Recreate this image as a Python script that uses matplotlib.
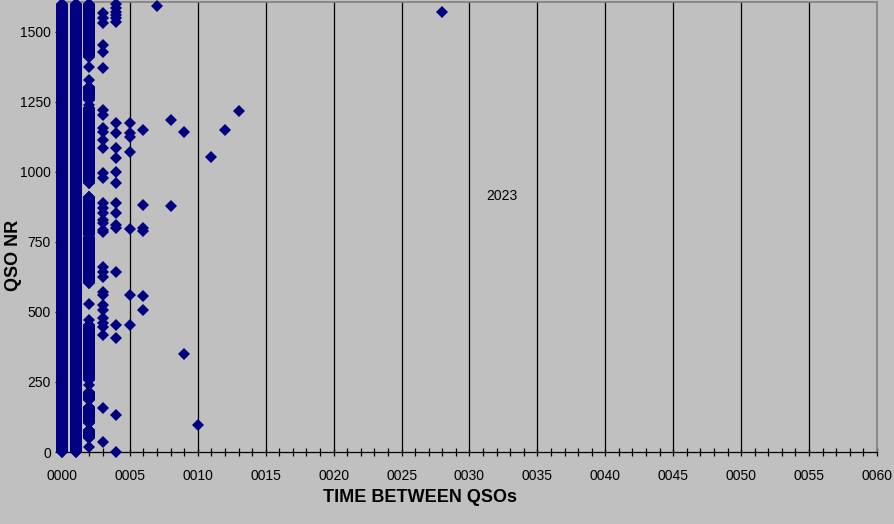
import numpy as np
import matplotlib.pyplot as plt

plt.rcParams['font.family'] = ['Liberation Sans', 'DejaVu Sans']

# QSO numbers per time gap (minutes); dense stretches given as runs (first, last)
runs = {
    0: [(0, 1600)],
    1: [(0, 1600)],
    2: [(1411, 1600), (1257, 1304), (961, 1229), (775, 911), (604, 768),
        (257, 454), (186, 214), (104, 161), (50, 79)],
}
singles = {
    2: [1375, 1329, 1239, 528, 471, 239, 18],
    3: [1568, 1550, 1532, 1454, 1429, 1371, 1221, 1204, 1157, 1143, 1114, 1086,
        996, 979, 889, 871, 854, 829, 818, 793, 786, 661, 643, 625, 571, 561,
        525, 507, 479, 461, 446, 418, 157, 36],
    4: [1600, 1586, 1572, 1561, 1550, 1536, 1175, 1139, 1086, 1050, 1000, 961,
        889, 854, 811, 800, 643, 454, 407, 132, 0],
    5: [1175, 1139, 1125, 1071, 796, 561, 454],
    6: [1150, 882, 800, 790, 557, 507],
    7: [1593],
    8: [1186, 879],
    9: [1143, 350],
    10: [96],
    11: [1054],
    12: [1150],
    13: [1218],
    28: [1571],
}
xticks = np.arange(0, 61, 5)
xlabels = ['%04d' % v for v in xticks]
yticks = [0, 250, 500, 750, 1000, 1250, 1500]

xs, ys = [], []
for gap, rr in runs.items():
    for a, b in rr:
        q = np.arange(a, b + 1)
        xs += [gap] * len(q)
        ys += list(q)
for gap, qq in singles.items():
    xs += [gap] * len(qq)
    ys += qq

fig = plt.figure(figsize=(8.95, 5.24), dpi=100, facecolor='#c0c0c0')
ax = fig.add_axes([62 / 895, 1 - 452 / 524, 815 / 895, 450 / 524])
ax.set_facecolor('#c0c0c0')

for v in xticks[1:-1]:
    ax.axvline(v, color='black', lw=0.9, zorder=1)

ax.plot(xs, ys, 'D', color='#000080', ms=6.3, mec='#000080', mew=0,
        zorder=3, clip_on=False)

ax.set_xlim(0, 60)
ax.set_ylim(0, 1607)
ax.set_xticks(xticks)
ax.set_xticklabels(xlabels)
ax.set_xticks(np.arange(0, 61, 1), minor=True)
ax.set_yticks(yticks)
ax.tick_params(axis='x', which='both', direction='inout', length=6, width=0.9,
               labelsize=10, pad=9)
ax.tick_params(axis='y', direction='out', length=5, width=0.9, labelsize=10, pad=3)

for s in ['top', 'right']:
    ax.spines[s].set_color('#808080')
    ax.spines[s].set_linewidth(1.2)
ax.spines['bottom'].set_linewidth(0.9)
ax.spines['left'].set_linewidth(0.9)

ax.text(32.4, 914, '2023', ha='center', va='center', fontsize=10)
fig.text(420 / 895, 1 - 497 / 524, 'TIME BETWEEN QSOs', ha='center', va='center',
         fontsize=13, fontweight='bold')
fig.text(14 / 895, 1 - 255 / 524, 'QSO NR', ha='center', va='center',
         rotation=90, fontsize=13, fontweight='bold')

fig.savefig('out.png', dpi=100, facecolor='#c0c0c0')
